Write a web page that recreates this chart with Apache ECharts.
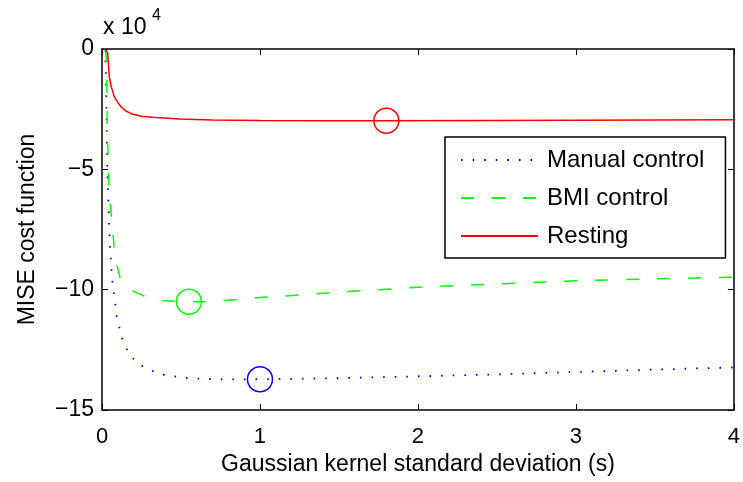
<!DOCTYPE html>
<html>
<head>
<meta charset="utf-8">
<script src="https://cdn.jsdelivr.net/npm/echarts@6/dist/echarts.min.js"></script>
<style>
html,body{margin:0;padding:0;background:#fff;}
#chart{width:743px;height:482px;}
</style>
</head>
<body>
<div id="chart"></div>
<script>
// Values in units of 10^4
const manualX = [0.02, 0.025, 0.034, 0.05, 0.065, 0.093, 0.125, 0.156, 0.194, 0.25, 0.31, 0.39, 0.46, 0.54, 0.67, 0.8, 1.0, 1.5, 2.0, 2.5, 3.0, 3.5, 4.0];
const manualY = [0, -1.0, -5.1, -8.2, -9.6, -11.1, -12.0, -12.46, -12.85, -13.16, -13.36, -13.54, -13.6, -13.68, -13.71, -13.73, -13.72, -13.68, -13.6, -13.52, -13.42, -13.32, -13.23];

const bmiX = [0.02, 0.029, 0.033, 0.044, 0.057, 0.078, 0.095, 0.114, 0.15, 0.204, 0.29, 0.39, 0.55, 0.68, 1.0, 1.25, 1.5, 2.0, 2.5, 3.0, 3.5, 4.0];
const bmiY = [0, -0.45, -3.2, -5.7, -6.8, -8.3, -9.0, -9.5, -9.85, -10.08, -10.33, -10.46, -10.5, -10.5, -10.33, -10.22, -10.1, -9.9, -9.76, -9.63, -9.55, -9.48];

const restX = [0.02, 0.036, 0.046, 0.06, 0.078, 0.1, 0.12, 0.15, 0.19, 0.25, 0.32, 0.49, 0.7, 1.0, 1.4, 1.8, 2.5, 3.0, 3.5, 4.0];
const restY = [0, -0.18, -1.15, -1.6, -1.98, -2.22, -2.4, -2.57, -2.7, -2.79, -2.84, -2.91, -2.95, -2.97, -2.98, -2.98, -2.97, -2.96, -2.95, -2.94];

// Marked minima
const manualMin = [1.0, -13.72];
const bmiMin = [0.55, -10.5];
const restMin = [1.8, -2.98];

const seriesNames = ['Manual control', 'BMI control', 'Resting'];
const xTicks = [0, 1, 2, 3, 4];
const yTicks = [0, -5, -10, -15];
const xTitle = 'Gaussian kernel standard deviation (s)';
const yTitle = 'MISE cost function';

const FONT = 'Liberation Sans, Arial, sans-serif';
const zip = (xs, ys) => xs.map((x, i) => [x, ys[i]]);

const chart = echarts.init(document.getElementById('chart'), null, {renderer: 'canvas'});

const axisLineStyle = {color: '#000', width: 1.5};
const minus = v => String(v).replace('-', '\u2212');

const option = {
  animation: false,
  backgroundColor: '#fff',
  grid: {left: 102, top: 49, right: 8, bottom: 72, containLabel: false},
  xAxis: [
    {
      type: 'value', min: xTicks[0], max: xTicks[xTicks.length - 1], interval: 1,
      position: 'bottom',
      axisLine: {show: true, onZero: false, lineStyle: axisLineStyle},
      axisTick: {show: true, inside: true, length: 6, lineStyle: {color: '#000', width: 1}},
      axisLabel: {show: true, color: '#000', fontSize: 22, fontFamily: FONT, margin: 16},
      splitLine: {show: false},
      name: xTitle, nameLocation: 'middle', nameGap: 42,
      nameTextStyle: {color: '#000', fontSize: 23, fontFamily: FONT}
    },
    {
      type: 'value', min: xTicks[0], max: xTicks[xTicks.length - 1], interval: 1,
      position: 'top',
      axisLine: {show: true, onZero: false, lineStyle: axisLineStyle},
      axisTick: {show: true, inside: true, length: 6, lineStyle: {color: '#000', width: 1}},
      axisLabel: {show: false},
      splitLine: {show: false}
    }
  ],
  yAxis: [
    {
      type: 'value', min: yTicks[yTicks.length - 1], max: yTicks[0], interval: 5,
      position: 'left',
      axisLine: {show: true, onZero: false, lineStyle: axisLineStyle},
      axisTick: {show: true, inside: true, length: 6, lineStyle: {color: '#000', width: 1}},
      axisLabel: {show: true, color: '#000', fontSize: 23, fontFamily: FONT, margin: 8, formatter: minus},
      splitLine: {show: false},
      name: yTitle, nameLocation: 'middle', nameGap: 63, nameRotate: 90,
      nameTextStyle: {color: '#000', fontSize: 23, fontFamily: FONT}
    },
    {
      type: 'value', min: yTicks[yTicks.length - 1], max: yTicks[0], interval: 5,
      position: 'right',
      axisLine: {show: true, onZero: false, lineStyle: axisLineStyle},
      axisTick: {show: true, inside: true, length: 6, lineStyle: {color: '#000', width: 1}},
      axisLabel: {show: false},
      splitLine: {show: false}
    }
  ],
  legend: {
    data: seriesNames,
    orient: 'vertical',
    left: 445, top: 137,
    padding: [11, 21, 10, 15],
    itemWidth: 77, itemHeight: 14, itemGap: 14,
    backgroundColor: '#fff',
    borderColor: '#000', borderWidth: 1.5, borderRadius: 0,
    itemStyle: {opacity: 0},
    textStyle: {color: '#000', fontSize: 24, fontFamily: FONT, lineHeight: 24, padding: [0, 0, 0, 4]}
  },
  graphic: [
    {type: 'text', left: 103, top: 16, style: {text: 'x 10', font: '23px ' + FONT, fill: '#000'}},
    {type: 'text', left: 152, top: 8, style: {text: '4', font: '16px ' + FONT, fill: '#000'}}
  ],
  series: [
    {
      name: seriesNames[0], type: 'line', data: zip(manualX, manualY),
      showSymbol: false, symbol: 'none',
      lineStyle: {color: '#0000ff', width: 1.8, type: [1.6, 10], cap: 'butt'},
      itemStyle: {color: '#0000ff'}
    },
    {
      name: seriesNames[1], type: 'line', data: zip(bmiX, bmiY),
      showSymbol: false, symbol: 'none',
      lineStyle: {color: '#00ff00', width: 1.5, type: [13, 18], cap: 'butt'},
      itemStyle: {color: '#00ff00'}
    },
    {
      name: seriesNames[2], type: 'line', data: zip(restX, restY),
      showSymbol: false, symbol: 'none',
      lineStyle: {color: '#ff0000', width: 1.5, type: 'solid'},
      itemStyle: {color: '#ff0000'}
    },
    {
      name: 'minima', type: 'scatter', symbol: 'circle', symbolSize: 25,
      data: [
        {value: manualMin, itemStyle: {borderColor: '#0000ff'}},
        {value: bmiMin, itemStyle: {borderColor: '#00ff00'}},
        {value: restMin, itemStyle: {borderColor: '#ff0000'}}
      ],
      itemStyle: {color: 'rgba(0,0,0,0)', borderWidth: 1.5, opacity: 1},
      emphasis: {disabled: true},
      z: 5
    }
  ]
};
chart.setOption(option);
</script>
</body>
</html>
